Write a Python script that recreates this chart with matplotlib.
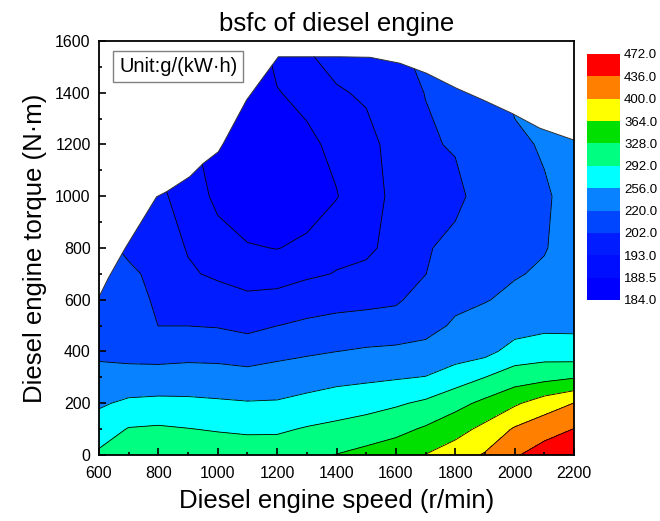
import numpy as np
import matplotlib
matplotlib.use("Agg")
import matplotlib.pyplot as plt
from matplotlib.colors import ListedColormap, BoundaryNorm
from matplotlib.patches import Polygon
from matplotlib.ticker import MultipleLocator

plt.rcParams['font.family'] = ['Liberation Sans', 'DejaVu Sans']

# engine map grid (r/min x N·m), bsfc in g/(kW·h)
speed = [600, 700, 800, 900, 1000, 1100, 1200, 1300, 1400,
         1500, 1600, 1700, 1800, 1900, 2000, 2100, 2200]
torque = [0, 100, 200, 300, 400, 500, 600, 700, 800, 1000, 1200, 1400, 1600]

# one list per speed, torque rising from 0 to 1600
bsfc_by_speed = [
    [298, 274, 251, 228, 215, 212, 209.5, 207.5, 206, 204, 203, 203, 203],
    [318, 294, 263, 230, 211, 208, 206, 204.2, 199.7, 198, 197, 197, 197],
    [320, 296.5, 266, 230, 210, 201.9, 200.4, 198.8, 197.2, 194, 192, 191, 190],
    [318, 293, 264.4, 232, 211, 201.9, 198, 193.9, 192.5, 191, 189.5, 189, 189],
    [315, 289.2, 261.3, 231, 210.5, 201.2, 196.2, 191.8, 190.2, 187.5, 186.5, 186, 186],
    [312, 286.4, 258.5, 228, 208.5, 199, 193.9, 191.2, 188.8, 186.0, 185.3, 185.5, 186],
    [312, 286.8, 259.5, 232, 212.5, 201.9, 194.8, 190.6, 188.4, 185.5, 185.2, 188.3, 190],
    [321, 294.8, 266.7, 239.6, 215.5, 203.8, 197.3, 191.8, 189.2, 186.8, 187.6, 189.6, 193.5],
    [329, 300.9, 273.4, 246.2, 219.9, 206, 197.8, 193.3, 191.3, 188.3, 189.5, 192.6, 195.0],
    [338.4, 308.7, 278.8, 249.5, 222.4, 207.5, 198.5, 194.2, 192.0, 191.3, 191.8, 193.5, 195.5],
    [348.1, 318.1, 287.4, 253.0, 224, 208, 200.2, 197.2, 194.7, 194.0, 194.4, 197, 201],
    [365, 332.4, 298.2, 257.3, 226.5, 212.5, 207.5, 201.8, 200.6, 199.3, 200.2, 202.3, 205],
    [382.5, 350.6, 316.5, 274.2, 238, 223, 215, 210.5, 206.3, 198.0, 203.3, 205, 208],
    [403.3, 373.5, 336.5, 292, 245, 231, 218.5, 216, 213.5, 209, 209.5, 212, 215],
    [432, 403.9, 358.5, 310.0, 270.0, 240, 226, 218, 216, 213, 217.5, 222.5, 225],
    [452.6, 421.8, 382.0, 317.1, 274.9, 248, 235, 223.5, 218.5, 218.6, 221.3, 224, 227],
    [470, 436.7, 400.5, 325.4, 270, 249.5, 243, 237, 231, 224, 223, 225, 228],
]

# full-load torque curve
edge_speed = [600, 631, 688, 794, 828, 906, 951, 1002, 1019, 1097, 1148,
              1204, 1412, 1513, 1614, 1704, 1805, 1894, 1990, 2085, 2200]
edge_torque = [611, 683, 799, 998, 1018, 1076, 1127, 1172, 1205, 1372, 1452,
               1539, 1539, 1537, 1514, 1475, 1417, 1372, 1321, 1263, 1217]

levels = [184, 188.5, 193, 202, 220, 256, 292, 328, 364, 400, 436, 472]
band_colors = ['#0000ff', '#000eff', '#001cff', '#0046ff', '#0882ff', '#00ffff',
               '#00ff80', '#00e000', '#ffff00', '#ff8000', '#ff0000']

cmap = ListedColormap(band_colors)
norm = BoundaryNorm(levels, cmap.N)

X, Y = np.meshgrid(speed, torque)
Z = np.array(bsfc_by_speed).T

fig = plt.figure(figsize=(6.6, 5.21), dpi=100)
ax = fig.add_axes([0.15, 0.1267, 0.7197, 0.7946])

cs = ax.contourf(X, Y, Z, levels=levels, cmap=cmap, norm=norm)
cl = ax.contour(X, Y, Z, levels=levels[1:-1], colors='black', linewidths=0.6)

outline = list(zip(edge_speed, edge_torque)) + [(2200, 0), (600, 0)]
clip = Polygon(outline, closed=True, transform=ax.transData, facecolor='none', edgecolor='none')
ax.add_patch(clip)
cs.set_clip_path(clip)
cl.set_clip_path(clip)
ax.plot(edge_speed, edge_torque, color='#333333', lw=0.7)

ax.set_xlim(600, 2200)
ax.set_ylim(0, 1600)
ax.xaxis.set_major_locator(MultipleLocator(200))
ax.xaxis.set_minor_locator(MultipleLocator(100))
ax.yaxis.set_major_locator(MultipleLocator(200))
ax.yaxis.set_minor_locator(MultipleLocator(100))
ax.tick_params(which='both', direction='in', top=False, right=False, width=1.2, labelsize=11.5)
ax.tick_params(axis='x', pad=8)
ax.tick_params(axis='y', pad=6)
ax.tick_params(which='major', length=5)
ax.tick_params(which='minor', length=2.5)
for spine in ax.spines.values():
    spine.set_linewidth(1.3)

ax.set_title("bsfc of diesel engine", fontsize=18.5, pad=7)
ax.set_xlabel("Diesel engine speed (r/min)", fontsize=18.5, labelpad=6)
ax.set_ylabel("Diesel engine torque (N·m)", fontsize=18.5, labelpad=6)

ax.text(0.167, 0.938, "Unit:g/(kW·h)", transform=ax.transAxes, fontsize=14.5,
        ha='center', va='center',
        bbox=dict(boxstyle='square,pad=0.3', facecolor='white', edgecolor='#808080', lw=1))

cax = fig.add_axes([0.8894, 0.4242, 0.05, 0.4722])
cb = fig.colorbar(cs, cax=cax, ticks=levels, spacing='uniform')
cb.outline.set_visible(False)
cb.ax.set_yticklabels([f"{v:.1f}" for v in levels])
cb.ax.tick_params(length=0, labelsize=9.5, pad=3)

fig.savefig("out.png", dpi=100)
